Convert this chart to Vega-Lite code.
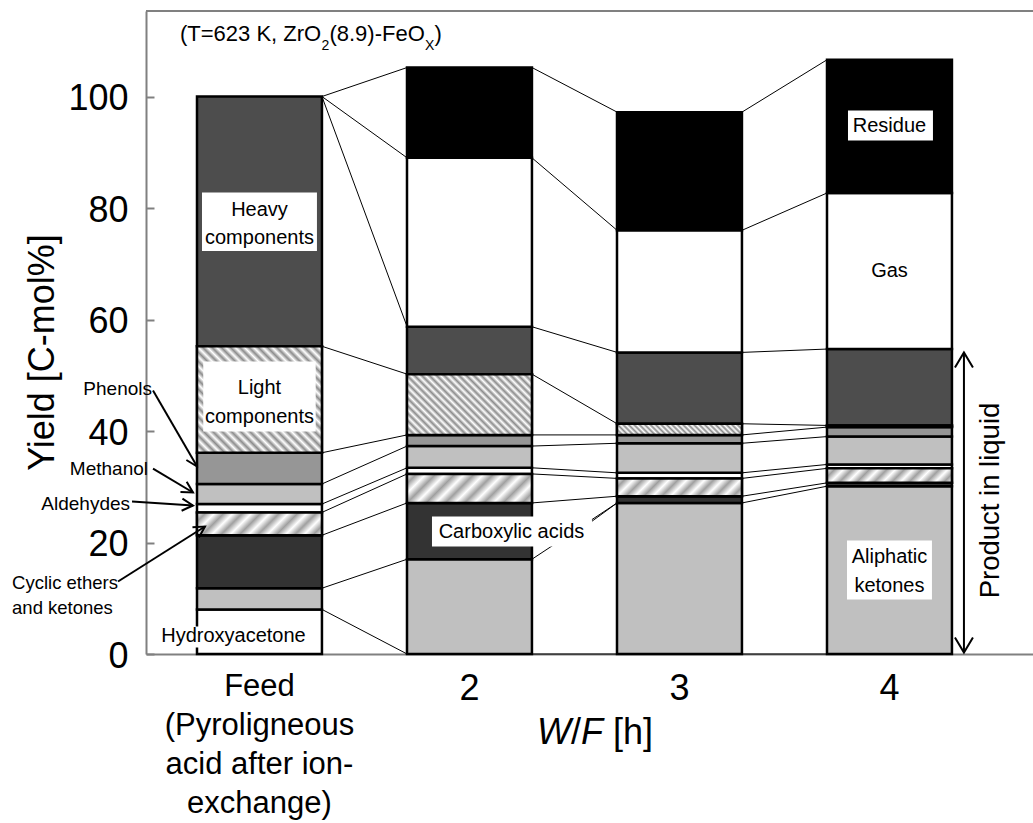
{
  "$schema": "https://vega.github.io/schema/vega-lite/v6.json",
  "width": 887,
  "height": 643,
  "autosize": {"type": "none"},
  "padding": {"left": 146, "top": 11, "right": 0, "bottom": 169},
  "background": "white",
  "config": {"font": "Liberation Sans", "view": {"stroke": null}},
  "params": [
    {"name": "lstops", "value": [{"offset":0,"color":"#8c8c8c"},{"offset":0.02,"color":"#ffffff"},{"offset":0.04,"color":"#8c8c8c"},{"offset":0.06,"color":"#ffffff"},{"offset":0.08,"color":"#8c8c8c"},{"offset":0.1,"color":"#ffffff"},{"offset":0.12,"color":"#8c8c8c"},{"offset":0.14,"color":"#ffffff"},{"offset":0.16,"color":"#8c8c8c"},{"offset":0.18,"color":"#ffffff"},{"offset":0.2,"color":"#8c8c8c"},{"offset":0.22,"color":"#ffffff"},{"offset":0.24,"color":"#8c8c8c"},{"offset":0.26,"color":"#ffffff"},{"offset":0.28,"color":"#8c8c8c"},{"offset":0.3,"color":"#ffffff"},{"offset":0.32,"color":"#8c8c8c"},{"offset":0.34,"color":"#ffffff"},{"offset":0.36,"color":"#8c8c8c"},{"offset":0.38,"color":"#ffffff"},{"offset":0.4,"color":"#8c8c8c"},{"offset":0.42,"color":"#ffffff"},{"offset":0.44,"color":"#8c8c8c"},{"offset":0.46,"color":"#ffffff"},{"offset":0.48,"color":"#8c8c8c"},{"offset":0.5,"color":"#ffffff"},{"offset":0.52,"color":"#8c8c8c"},{"offset":0.54,"color":"#ffffff"},{"offset":0.56,"color":"#8c8c8c"},{"offset":0.58,"color":"#ffffff"},{"offset":0.6,"color":"#8c8c8c"},{"offset":0.62,"color":"#ffffff"},{"offset":0.64,"color":"#8c8c8c"},{"offset":0.66,"color":"#ffffff"},{"offset":0.68,"color":"#8c8c8c"},{"offset":0.7,"color":"#ffffff"},{"offset":0.72,"color":"#8c8c8c"},{"offset":0.74,"color":"#ffffff"},{"offset":0.76,"color":"#8c8c8c"},{"offset":0.78,"color":"#ffffff"},{"offset":0.8,"color":"#8c8c8c"},{"offset":0.82,"color":"#ffffff"},{"offset":0.84,"color":"#8c8c8c"},{"offset":0.86,"color":"#ffffff"},{"offset":0.88,"color":"#8c8c8c"},{"offset":0.9,"color":"#ffffff"},{"offset":0.92,"color":"#8c8c8c"},{"offset":0.94,"color":"#ffffff"},{"offset":0.96,"color":"#8c8c8c"},{"offset":0.98,"color":"#ffffff"},{"offset":1,"color":"#8c8c8c"}]},
    {"name": "cstops", "value": [{"offset":0,"color":"#ffffff"},{"offset":0.0625,"color":"#a0a0a0"},{"offset":0.125,"color":"#ffffff"},{"offset":0.1875,"color":"#a0a0a0"},{"offset":0.25,"color":"#ffffff"},{"offset":0.3125,"color":"#a0a0a0"},{"offset":0.375,"color":"#ffffff"},{"offset":0.4375,"color":"#a0a0a0"},{"offset":0.5,"color":"#ffffff"},{"offset":0.5625,"color":"#a0a0a0"},{"offset":0.625,"color":"#ffffff"},{"offset":0.6875,"color":"#a0a0a0"},{"offset":0.75,"color":"#ffffff"},{"offset":0.8125,"color":"#a0a0a0"},{"offset":0.875,"color":"#ffffff"},{"offset":0.9375,"color":"#a0a0a0"},{"offset":1,"color":"#ffffff"}]}
  ],
  "datasets": {
    "yields": [
      {"bar":"Feed","comp":"Hydroxyacetone","order":1,"value":8.0},
      {"bar":"Feed","comp":"Aliphatic ketones","order":2,"value":3.8},
      {"bar":"Feed","comp":"Carboxylic acids","order":3,"value":9.5},
      {"bar":"Feed","comp":"Cyclic ethers and ketones","order":4,"value":4.1},
      {"bar":"Feed","comp":"Aldehydes","order":5,"value":1.5},
      {"bar":"Feed","comp":"Methanol","order":6,"value":3.6},
      {"bar":"Feed","comp":"Phenols","order":7,"value":5.6},
      {"bar":"Feed","comp":"Light components","order":8,"value":19.1},
      {"bar":"Feed","comp":"Heavy components","order":9,"value":44.8},
      {"bar":"Feed","comp":"Gas","order":10,"value":0},
      {"bar":"Feed","comp":"Residue","order":11,"value":0},
      {"bar":"W2","comp":"Hydroxyacetone","order":1,"value":0},
      {"bar":"W2","comp":"Aliphatic ketones","order":2,"value":17.0},
      {"bar":"W2","comp":"Carboxylic acids","order":3,"value":10.1},
      {"bar":"W2","comp":"Cyclic ethers and ketones","order":4,"value":5.2},
      {"bar":"W2","comp":"Aldehydes","order":5,"value":1.1},
      {"bar":"W2","comp":"Methanol","order":6,"value":3.9},
      {"bar":"W2","comp":"Phenols","order":7,"value":2.0},
      {"bar":"W2","comp":"Light components","order":8,"value":10.9},
      {"bar":"W2","comp":"Heavy components","order":9,"value":8.5},
      {"bar":"W2","comp":"Gas","order":10,"value":30.3},
      {"bar":"W2","comp":"Residue","order":11,"value":16.2},
      {"bar":"W3","comp":"Hydroxyacetone","order":1,"value":0},
      {"bar":"W3","comp":"Aliphatic ketones","order":2,"value":27.1},
      {"bar":"W3","comp":"Carboxylic acids","order":3,"value":1.2},
      {"bar":"W3","comp":"Cyclic ethers and ketones","order":4,"value":3.2},
      {"bar":"W3","comp":"Aldehydes","order":5,"value":1.0},
      {"bar":"W3","comp":"Methanol","order":6,"value":5.3},
      {"bar":"W3","comp":"Phenols","order":7,"value":1.5},
      {"bar":"W3","comp":"Light components","order":8,"value":2.0},
      {"bar":"W3","comp":"Heavy components","order":9,"value":12.8},
      {"bar":"W3","comp":"Gas","order":10,"value":21.9},
      {"bar":"W3","comp":"Residue","order":11,"value":21.2},
      {"bar":"W4","comp":"Hydroxyacetone","order":1,"value":0},
      {"bar":"W4","comp":"Aliphatic ketones","order":2,"value":30.1},
      {"bar":"W4","comp":"Carboxylic acids","order":3,"value":0.6},
      {"bar":"W4","comp":"Cyclic ethers and ketones","order":4,"value":2.6},
      {"bar":"W4","comp":"Aldehydes","order":5,"value":0.7},
      {"bar":"W4","comp":"Methanol","order":6,"value":5.0},
      {"bar":"W4","comp":"Phenols","order":7,"value":1.7},
      {"bar":"W4","comp":"Light components","order":8,"value":0.3},
      {"bar":"W4","comp":"Heavy components","order":9,"value":13.7},
      {"bar":"W4","comp":"Gas","order":10,"value":28.0},
      {"bar":"W4","comp":"Residue","order":11,"value":23.9}
    ]
  },
  "layer": [
    {
      "data": {"name": "yields"},
      "transform": [
        {"stack": "value", "groupby": ["bar"], "sort": [{"field": "order", "order": "ascending"}], "as": ["lo", "hi"]},
        {"filter": "datum.value > 0"}
      ],
      "mark": {"type": "bar", "stroke": "black", "strokeWidth": 2.5},
      "encoding": {
        "x": {
          "field": "bar", "type": "nominal",
          "scale": {"domain": ["Feed","W2","W3","W4"], "paddingInner": 0.405, "paddingOuter": 0.3144, "align": 0.3862},
          "axis": {
            "title": null,
            "labelExpr": "datum.value == 'Feed' ? ['Feed','(Pyroligneous','acid after ion-','exchange)'] : replace(datum.value,'W','')",
            "labelFontSize": {"condition": {"test": "datum.value == 'Feed'", "value": 31}, "value": 36},
            "labelLineHeight": 39, "labelPadding": 17, "labelAngle": 0, "labelColor": "black",
            "labelBaseline": "top", "labelLimit": 0, "labelOverlap": false,
            "ticks": false, "tickSize": 0, "domainColor": "#808080", "domainWidth": 2
          }
        },
        "y": {
          "field": "hi", "type": "quantitative",
          "scale": {"domain": [0, 115.34], "nice": false, "zero": true},
          "axis": {
            "title": "Yield [C-mol%]", "values": [0,20,40,60,80,100], "grid": false,
            "tickSize": -8, "tickColor": "#808080", "tickWidth": 2,
            "domainColor": "#808080", "domainWidth": 2,
            "labelFontSize": 36, "labelColor": "black", "labelPadding": 26, "labelOffset": 2,
            "titleFontSize": 36, "titleFontWeight": "normal", "titleColor": "black",
            "titleX": -104, "titleY": 341, "titleBaseline": "middle", "titleAlign": "center", "titleAngle": -90
          }
        },
        "y2": {"field": "lo"},
        "color": {
          "field": "comp", "type": "nominal", "legend": null,
          "scale": {
            "domain": ["Hydroxyacetone","Aliphatic ketones","Carboxylic acids","Cyclic ethers and ketones","Aldehydes","Methanol","Phenols","Light components","Heavy components","Gas","Residue"],
            "range": ["#ffffff","#c0c0c0","#333333","#ffffff","#ffffff","#c0c0c0","#969696","#ffffff","#4d4d4d","#ffffff","#000000"]
          }
        }
      }
    },
    {
      "data": {"name": "yields"},
      "transform": [
        {"stack": "value", "groupby": ["bar"], "sort": [{"field": "order", "order": "ascending"}], "as": ["lo", "hi"]},
        {"filter": "datum.value > 0 && (datum.comp == 'Light components' || datum.comp == 'Cyclic ethers and ketones')"}
      ],
      "mark": {
        "type": "bar", "stroke": "black", "strokeWidth": 2.5,
        "fill": {"expr": "datum.comp == 'Light components' ? {gradient:'linear', x1:0, y1:1, x2:((1+((scale('y',datum.lo)-scale('y',datum.hi))/bandwidth('x')))/(1+pow((scale('y',datum.lo)-scale('y',datum.hi))/bandwidth('x'),2))), y2:1-((1+((scale('y',datum.lo)-scale('y',datum.hi))/bandwidth('x')))/(1+pow((scale('y',datum.lo)-scale('y',datum.hi))/bandwidth('x'),2)))*((scale('y',datum.lo)-scale('y',datum.hi))/bandwidth('x')), stops:lstops} : {gradient:'linear', x1:0, y1:0, x2:((1+((scale('y',datum.lo)-scale('y',datum.hi))/bandwidth('x')))/(1+pow((scale('y',datum.lo)-scale('y',datum.hi))/bandwidth('x'),2))), y2:((1+((scale('y',datum.lo)-scale('y',datum.hi))/bandwidth('x')))/(1+pow((scale('y',datum.lo)-scale('y',datum.hi))/bandwidth('x'),2)))*((scale('y',datum.lo)-scale('y',datum.hi))/bandwidth('x')), stops:cstops}"}
      },
      "encoding": {
        "x": {"field": "bar", "type": "nominal"},
        "y": {"field": "hi", "type": "quantitative"},
        "y2": {"field": "lo"}
      }
    },
    {
      "data": {"name": "yields"},
      "transform": [
        {"stack": "value", "groupby": ["bar"], "sort": [{"field": "order", "order": "ascending"}], "as": ["lo", "hi"]},
        {"pivot": "bar", "value": "hi", "groupby": ["comp"]}
      ],
      "mark": {"type": "rule", "color": "black", "strokeWidth": 1},
      "encoding": {
        "x": {"datum": "Feed", "bandPosition": 1},
        "x2": {"datum": "W2", "bandPosition": 0.001},
        "y": {"field": "Feed", "type": "quantitative"},
        "y2": {"field": "W2"}
      }
    },
    {
      "data": {"name": "yields"},
      "transform": [
        {"stack": "value", "groupby": ["bar"], "sort": [{"field": "order", "order": "ascending"}], "as": ["lo", "hi"]},
        {"pivot": "bar", "value": "hi", "groupby": ["comp"]}
      ],
      "mark": {"type": "rule", "color": "black", "strokeWidth": 1},
      "encoding": {
        "x": {"datum": "W2", "bandPosition": 1},
        "x2": {"datum": "W3", "bandPosition": 0.001},
        "y": {"field": "W2", "type": "quantitative"},
        "y2": {"field": "W3"}
      }
    },
    {
      "data": {"name": "yields"},
      "transform": [
        {"stack": "value", "groupby": ["bar"], "sort": [{"field": "order", "order": "ascending"}], "as": ["lo", "hi"]},
        {"pivot": "bar", "value": "hi", "groupby": ["comp"]}
      ],
      "mark": {"type": "rule", "color": "black", "strokeWidth": 1},
      "encoding": {
        "x": {"datum": "W3", "bandPosition": 1},
        "x2": {"datum": "W4", "bandPosition": 0.001},
        "y": {"field": "W3", "type": "quantitative"},
        "y2": {"field": "W4"}
      }
    },
    {
      "data": {"values": [{}]},
      "mark": {"type": "rule", "color": "#808080", "strokeWidth": 2},
      "encoding": {"y": {"datum": 115.34}}
    },
    {
      "data": {"values": [{}]},
      "mark": {"type": "rect", "fill": "white"},
      "encoding": {"x": {"datum": "Feed", "bandPosition": 0.04}, "x2": {"datum": "Feed", "bandPosition": 0.96}, "y": {"datum": 82.78}, "y2": {"datum": 72.29}}
    },
    {
      "data": {"values": [{}]},
      "mark": {"type": "rect", "fill": "white"},
      "encoding": {"x": {"datum": "Feed", "bandPosition": 0.05}, "x2": {"datum": "Feed", "bandPosition": 0.95}, "y": {"datum": 52.47}, "y2": {"datum": 39.91}}
    },
    {
      "data": {"values": [{}]},
      "mark": {"type": "rect", "fill": "white"},
      "encoding": {"x": {"datum": "W2", "bandPosition": 0.2}, "x2": {"datum": "W2", "bandPosition": 1.48}, "y": {"datum": 24.66}, "y2": {"datum": 19.28}}
    },
    {
      "data": {"values": [{}]},
      "mark": {"type": "rect", "fill": "white"},
      "encoding": {"x": {"datum": "W4", "bandPosition": 0.168}, "x2": {"datum": "W4", "bandPosition": 0.848}, "y": {"datum": 97.49}, "y2": {"datum": 92.11}}
    },
    {
      "data": {"values": [{}]},
      "mark": {"type": "rect", "fill": "white"},
      "encoding": {"x": {"datum": "W4", "bandPosition": 0.16}, "x2": {"datum": "W4", "bandPosition": 0.84}, "y": {"datum": 20.36}, "y2": {"datum": 9.78}}
    },
    {
      "data": {"values": [{}]},
      "mark": {"type": "rect", "fill": "white"},
      "encoding": {"x": {"datum": "Feed", "bandPosition": -0.312}, "x2": {"datum": "Feed", "bandPosition": 0.888}, "y": {"datum": 4.93}, "y2": {"datum": 1.17}}
    },
    {
      "data": {"values": [{}]},
      "mark": {"type": "text", "text": ["Heavy", "components"], "fontSize": 20, "lineHeight": 28, "baseline": "middle", "align": "center", "color": "black"},
      "encoding": {"x": {"datum": "Feed", "bandPosition": 0.5}, "y": {"datum": 79.73}}
    },
    {
      "data": {"values": [{}]},
      "mark": {"type": "text", "text": ["Light", "components"], "fontSize": 20, "lineHeight": 29, "baseline": "middle", "align": "center", "color": "black"},
      "encoding": {"x": {"datum": "Feed", "bandPosition": 0.5}, "y": {"datum": 47.8}}
    },
    {
      "data": {"values": [{}]},
      "mark": {"type": "text", "text": "Carboxylic acids", "fontSize": 20, "baseline": "middle", "align": "center", "color": "black"},
      "encoding": {"x": {"datum": "W2", "bandPosition": 0.836}, "y": {"datum": 21.97}}
    },
    {
      "data": {"values": [{}]},
      "mark": {"type": "text", "text": "Residue", "fontSize": 20, "baseline": "middle", "align": "center", "color": "black"},
      "encoding": {"x": {"datum": "W4", "bandPosition": 0.5}, "y": {"datum": 94.8}}
    },
    {
      "data": {"values": [{}]},
      "mark": {"type": "text", "text": "Gas", "fontSize": 20, "baseline": "middle", "align": "center", "color": "black"},
      "encoding": {"x": {"datum": "W4", "bandPosition": 0.5}, "y": {"datum": 68.66}}
    },
    {
      "data": {"values": [{}]},
      "mark": {"type": "text", "text": ["Aliphatic", "ketones"], "fontSize": 20, "lineHeight": 29, "baseline": "middle", "align": "center", "color": "black"},
      "encoding": {"x": {"datum": "W4", "bandPosition": 0.5}, "y": {"datum": 17.31}}
    },
    {
      "data": {"values": [{}]},
      "mark": {"type": "text", "text": "Hydroxyacetone", "fontSize": 20, "baseline": "middle", "align": "center", "color": "black"},
      "encoding": {"x": {"datum": "Feed", "bandPosition": 0.292}, "y": {"datum": 3.14}}
    },
    {
      "data": {"values": [{}]},
      "mark": {"type": "text", "text": "Phenols", "fontSize": 19, "baseline": "middle", "align": "right", "color": "black"},
      "encoding": {"x": {"datum": "Feed", "bandPosition": -0.36}, "y": {"datum": 47.6}}
    },
    {
      "data": {"values": [{}]},
      "mark": {"type": "text", "text": "Methanol", "fontSize": 19, "baseline": "middle", "align": "right", "color": "black"},
      "encoding": {"x": {"datum": "Feed", "bandPosition": -0.392}, "y": {"datum": 33.2}}
    },
    {
      "data": {"values": [{}]},
      "mark": {"type": "text", "text": "Aldehydes", "fontSize": 19, "baseline": "middle", "align": "right", "color": "black"},
      "encoding": {"x": {"datum": "Feed", "bandPosition": -0.536}, "y": {"datum": 26.9}}
    },
    {
      "data": {"values": [{}]},
      "mark": {"type": "text", "text": ["Cyclic ethers", "and ketones"], "fontSize": 18.5, "lineHeight": 25, "baseline": "middle", "align": "left", "color": "black"},
      "encoding": {"x": {"datum": "Feed", "bandPosition": -1.48}, "y": {"datum": 12.72}}
    },
    {
      "data": {"values": [{}]},
      "mark": {"type": "rule", "color": "black", "strokeWidth": 2},
      "encoding": {"x": {"datum": "Feed", "bandPosition": -0.352}, "x2": {"datum": "Feed", "bandPosition": 0.001}, "y": {"datum": 47.26}, "y2": {"datum": 33.63}}
    },
    {
      "data": {"values": [{}]},
      "mark": {"type": "rule", "color": "black", "strokeWidth": 2},
      "encoding": {"x": {"datum": "Feed", "bandPosition": -0.352}, "x2": {"datum": "Feed", "bandPosition": -0.032}, "y": {"datum": 33.27}, "y2": {"datum": 28.97}}
    },
    {
      "data": {"values": [{}]},
      "mark": {"type": "rule", "color": "black", "strokeWidth": 2},
      "encoding": {"x": {"datum": "Feed", "bandPosition": -0.52}, "x2": {"datum": "Feed", "bandPosition": -0.032}, "y": {"datum": 27.35}, "y2": {"datum": 26.64}}
    },
    {
      "data": {"values": [{}]},
      "mark": {"type": "rule", "color": "black", "strokeWidth": 2},
      "encoding": {"x": {"datum": "Feed", "bandPosition": -0.632}, "x2": {"datum": "Feed", "bandPosition": 0.064}, "y": {"datum": 13.0}, "y2": {"datum": 22.87}}
    },
    {
      "data": {"values": [{}]},
      "mark": {"type": "point", "shape": "M-1,-0.55L0,0L-1,0.55", "filled": false, "stroke": "black", "strokeWidth": 2, "size": 484, "angle": 60, "opacity": 1},
      "encoding": {"x": {"datum": "Feed", "bandPosition": 0.001}, "y": {"datum": 33.63}}
    },
    {
      "data": {"values": [{}]},
      "mark": {"type": "point", "shape": "M-1,-0.55L0,0L-1,0.55", "filled": false, "stroke": "black", "strokeWidth": 2, "size": 484, "angle": 31, "opacity": 1},
      "encoding": {"x": {"datum": "Feed", "bandPosition": -0.032}, "y": {"datum": 28.97}}
    },
    {
      "data": {"values": [{}]},
      "mark": {"type": "point", "shape": "M-1,-0.55L0,0L-1,0.55", "filled": false, "stroke": "black", "strokeWidth": 2, "size": 484, "angle": 4, "opacity": 1},
      "encoding": {"x": {"datum": "Feed", "bandPosition": -0.032}, "y": {"datum": 26.64}}
    },
    {
      "data": {"values": [{}]},
      "mark": {"type": "point", "shape": "M-1,-0.55L0,0L-1,0.55", "filled": false, "stroke": "black", "strokeWidth": 2, "size": 484, "angle": 328, "opacity": 1},
      "encoding": {"x": {"datum": "Feed", "bandPosition": 0.064}, "y": {"datum": 22.87}}
    },
    {
      "data": {"values": [{}]},
      "mark": {"type": "rule", "color": "black", "strokeWidth": 1},
      "encoding": {"x": {"datum": "W3", "bandPosition": -0.2}, "x2": {"datum": "W3", "bandPosition": 0.002}, "y": {"datum": 23.82}, "y2": {"datum": 27.12}}
    },
    {
      "data": {"values": [{}]},
      "mark": {"type": "rule", "color": "black", "strokeWidth": 2},
      "encoding": {"x": {"datum": "W4", "bandPosition": 1.096}, "y": {"datum": 54.08}, "y2": {"datum": 0.27}}
    },
    {
      "data": {"values": [{}]},
      "mark": {"type": "point", "shape": "M-1,-0.6L0,0L-1,0.6", "filled": false, "stroke": "black", "strokeWidth": 2, "size": 900, "angle": 270, "opacity": 1},
      "encoding": {"x": {"datum": "W4", "bandPosition": 1.096}, "y": {"datum": 54.08}}
    },
    {
      "data": {"values": [{}]},
      "mark": {"type": "point", "shape": "M-1,-0.6L0,0L-1,0.6", "filled": false, "stroke": "black", "strokeWidth": 2, "size": 900, "angle": 90, "opacity": 1},
      "encoding": {"x": {"datum": "W4", "bandPosition": 1.096}, "y": {"datum": 0.27}}
    },
    {
      "data": {"values": [{}]},
      "mark": {"type": "text", "text": "Product in liquid", "fontSize": 27.5, "angle": 270, "baseline": "middle", "align": "center", "color": "black"},
      "encoding": {"x": {"datum": "W4", "bandPosition": 1.312}, "y": {"datum": 27.53}}
    },
    {
      "data": {"values": [{}]},
      "mark": {"type": "text", "text": "(T=623 K, ZrO", "fontSize": 22, "baseline": "alphabetic", "align": "left", "color": "black"},
      "encoding": {"x": {"datum": "Feed", "bandPosition": -0.136}, "y": {"datum": 110.04}}
    },
    {
      "data": {"values": [{}]},
      "mark": {"type": "text", "text": "2", "fontSize": 14, "baseline": "alphabetic", "align": "left", "color": "black"},
      "encoding": {"x": {"datum": "Feed", "bandPosition": 0.996}, "y": {"datum": 108.43}}
    },
    {
      "data": {"values": [{}]},
      "mark": {"type": "text", "text": "(8.9)-FeO", "fontSize": 22, "baseline": "alphabetic", "align": "left", "color": "black"},
      "encoding": {"x": {"datum": "Feed", "bandPosition": 1.06}, "y": {"datum": 110.04}}
    },
    {
      "data": {"values": [{}]},
      "mark": {"type": "text", "text": "X", "fontSize": 14, "baseline": "alphabetic", "align": "left", "color": "black"},
      "encoding": {"x": {"datum": "Feed", "bandPosition": 1.824}, "y": {"datum": 108.43}}
    },
    {
      "data": {"values": [{}]},
      "mark": {"type": "text", "text": ")", "fontSize": 22, "baseline": "alphabetic", "align": "left", "color": "black"},
      "encoding": {"x": {"datum": "Feed", "bandPosition": 1.9}, "y": {"datum": 110.04}}
    },
    {
      "data": {"values": [{}]},
      "mark": {"type": "text", "text": "W", "fontSize": 36, "fontStyle": "italic", "baseline": "alphabetic", "align": "left", "color": "black"},
      "encoding": {"x": {"datum": "W2", "bandPosition": 1.04}, "y": {"datum": -16.23}}
    },
    {
      "data": {"values": [{}]},
      "mark": {"type": "text", "text": "/", "fontSize": 36, "baseline": "alphabetic", "align": "left", "color": "black"},
      "encoding": {"x": {"datum": "W2", "bandPosition": 1.312}, "y": {"datum": -16.23}}
    },
    {
      "data": {"values": [{}]},
      "mark": {"type": "text", "text": "F", "fontSize": 36, "fontStyle": "italic", "baseline": "alphabetic", "align": "left", "color": "black"},
      "encoding": {"x": {"datum": "W2", "bandPosition": 1.392}, "y": {"datum": -16.23}}
    },
    {
      "data": {"values": [{}]},
      "mark": {"type": "text", "text": "[h]", "fontSize": 36, "baseline": "alphabetic", "align": "left", "color": "black"},
      "encoding": {"x": {"datum": "W2", "bandPosition": 1.648}, "y": {"datum": -16.23}}
    }
  ]
}
